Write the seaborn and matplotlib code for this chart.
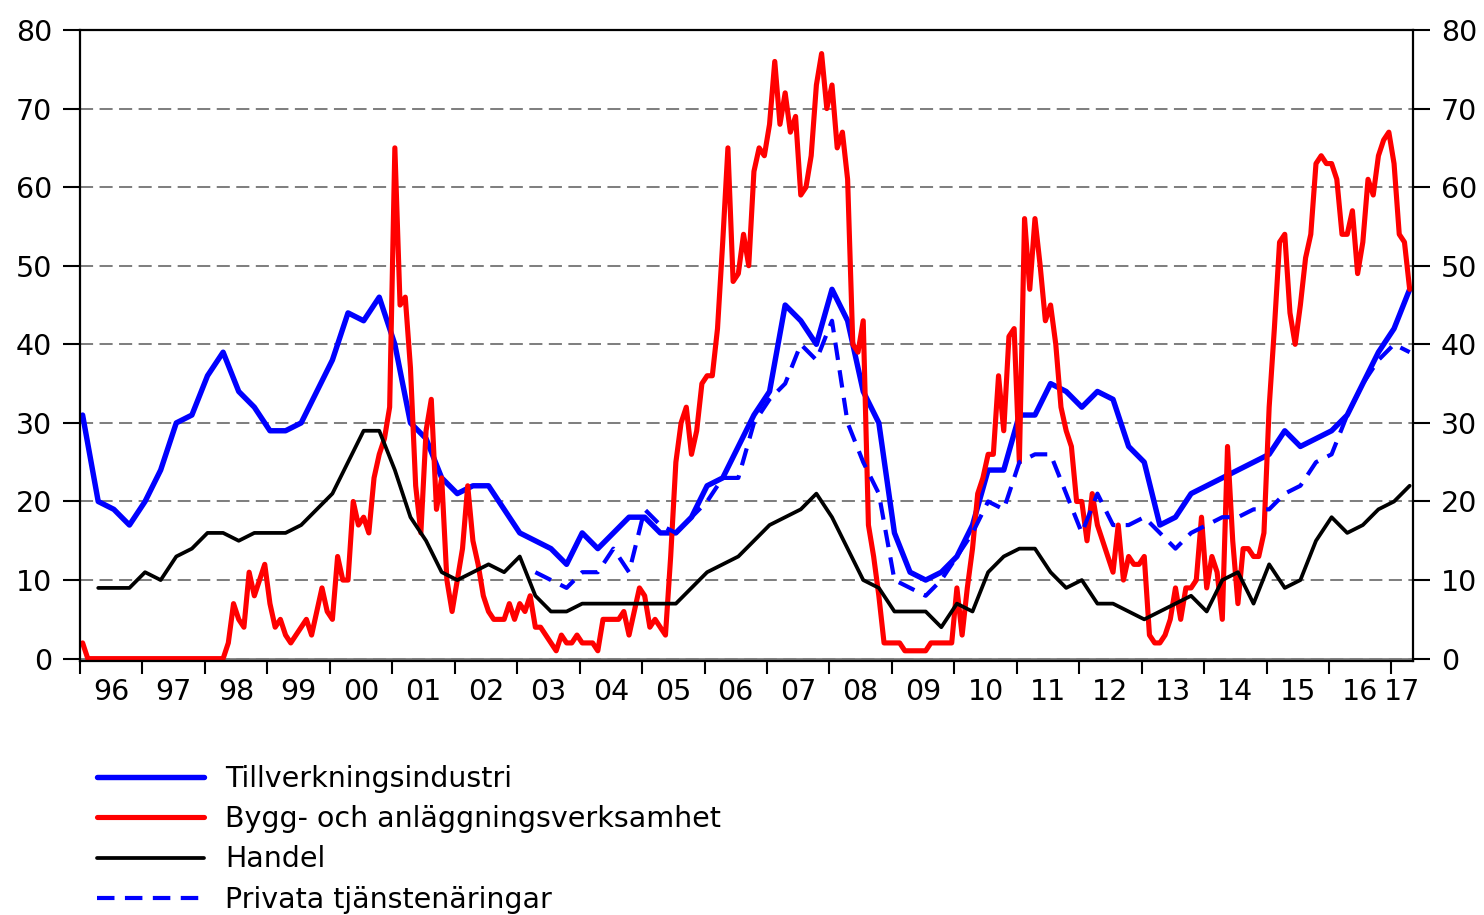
import numpy as np
import pandas as pd
import matplotlib
matplotlib.use("Agg")
import matplotlib.pyplot as plt
import seaborn as sns

# quarterly series, 1996Q1 - 2017Q2
tillverkning = [31, 20, 19, 17,  20, 24, 30, 31,  36, 39, 34, 32,  29, 29, 30, 34,
                38, 44, 43, 46,  40, 30, 28, 23,  21, 22, 22, 19,  16, 15, 14, 12,
                16, 14, 16, 18,  18, 16, 16, 18,  22, 23, 27, 31,  34, 45, 43, 40,
                47, 43, 34, 30,  16, 11, 10, 11,  13, 17, 24, 24,  31, 31, 35, 34,
                32, 34, 33, 27,  25, 17, 18, 21,  22, 23, 24, 25,  26, 29, 27, 28,
                29, 31, 35, 39,  42, 47]
handel = [np.nan, 9, 9, 9,  11, 10, 13, 14,  16, 16, 15, 16,  16, 16, 17, 19,
          21, 25, 29, 29,  24, 18, 15, 11,  10, 11, 12, 11,  13, 8, 6, 6,
          7, 7, 7, 7,  7, 7, 7, 9,  11, 12, 13, 15,  17, 18, 19, 21,
          18, 14, 10, 9,  6, 6, 6, 4,  7, 6, 11, 13,  14, 14, 11, 9,
          10, 7, 7, 6,  5, 6, 7, 8,  6, 10, 11, 7,  12, 9, 10, 15,
          18, 16, 17, 19,  20, 22]
privata = [np.nan] * 29 + [11, 10, 9,  11, 11, 14, 11,  19, 17, 16, 18,  20, 23, 23, 30,
                           33, 35, 40, 38,  43, 30, 25, 21,  10, 9, 8, 10,  13, 16, 20, 19,
                           25, 26, 26, 21,  16, 21, 17, 17,  18, 16, 14, 16,  17, 18, 18, 19,
                           19, 21, 22, 25,  26, 31, 35, 38,  40, 39]

# monthly series, 1996M1 - 2017M4
bygg = [2, 0, 0, 0, 0, 0, 0, 0, 0, 0, 0, 0,
        0, 0, 0, 0, 0, 0, 0, 0, 0, 0, 0, 0,
        0, 0, 0, 0, 2, 7, 5, 4, 11, 8, 10, 12,
        7, 4, 5, 3, 2, 3, 4, 5, 3, 6, 9, 6,
        5, 13, 10, 10, 20, 17, 18, 16, 23, 26, 28, 32,
        65, 45, 46, 37, 22, 16, 29, 33, 19, 23, 10, 6,
        10, 14, 22, 15, 12, 8, 6, 5, 5, 5, 7, 5,
        7, 6, 8, 4, 4, 3, 2, 1, 3, 2, 2, 3,
        2, 2, 2, 1, 5, 5, 5, 5, 6, 3, 6, 9,
        8, 4, 5, 4, 3, 13, 25, 30, 32, 26, 29, 35,
        36, 36, 42, 53, 65, 48, 49, 54, 50, 62, 65, 64,
        68, 76, 68, 72, 67, 69, 59, 60, 64, 73, 77, 70,
        73, 65, 67, 61, 40, 39, 43, 17, 13, 8, 2, 2,
        2, 2, 1, 1, 1, 1, 1, 2, 2, 2, 2, 2,
        9, 3, 9, 14, 21, 23, 26, 26, 36, 29, 41, 42,
        25, 56, 47, 56, 50, 43, 45, 40, 32, 29, 27, 20,
        20, 15, 21, 17, 15, 13, 11, 17, 10, 13, 12, 12,
        13, 3, 2, 2, 3, 5, 9, 5, 9, 9, 10, 18,
        9, 13, 11, 5, 27, 15, 7, 14, 14, 13, 13, 16,
        32, 42, 53, 54, 44, 40, 45, 51, 54, 63, 64, 63,
        63, 61, 54, 54, 57, 49, 53, 61, 59, 64, 66, 67,
        63, 54, 53, 47]

labels = ["Tillverkningsindustri", "Bygg- och anläggningsverksamhet",
          "Handel", "Privata tjänstenäringar"]
years = list(range(1996, 2018))

# time axis in decimal years (observation at centre of its first month)
t_q = 1996 + (np.arange(len(tillverkning)) * 3 + 0.5) / 12
t_m = 1996 + (np.arange(len(bygg)) + 0.5) / 12
quarterly = pd.DataFrame({"t": t_q, "till": tillverkning, "handel": handel, "privata": privata})
monthly = pd.DataFrame({"t": t_m, "bygg": bygg})

sns.set_style("ticks")
plt.rcParams["font.family"] = ["DejaVu Sans"]
plt.rcParams["text.color"] = "black"
plt.rcParams["xtick.color"] = "black"
plt.rcParams["ytick.color"] = "black"

fs = 20.5

fig = plt.figure(figsize=(14.84, 9.15), dpi=100)
ax = fig.add_axes([80 / 1484, 1 - 661 / 915, 1333 / 1484, 631 / 915])

#grid first so lines sit on top
ax.set_axisbelow(True)
ax.yaxis.grid(True, color="#808080", linestyle=(0, (6.5, 3.2)), linewidth=1.45)
ax.axhline(0, color="#808080", lw=2, zorder=1)

sns.lineplot(data=quarterly, x="t", y="till", ax=ax, color="#0000ff", lw=3.9, label=labels[0], legend=False)
sns.lineplot(data=monthly, x="t", y="bygg", ax=ax, color="#ff0000", lw=3.7, label=labels[1], legend=False)
sns.lineplot(data=quarterly, x="t", y="handel", ax=ax, color="black", lw=2.7, label=labels[2], legend=False)
sns.lineplot(data=quarterly, x="t", y="privata", ax=ax, color="#0000ff", lw=3.0,
             linestyle=(0, (4.2, 2.5)), label=labels[3], legend=False)

x_end = 1996 + 1333 / 62.45
ax.set_xlim(1996, x_end)
ax.set_ylim(-0.3, 80)
ax.set_xlabel("")
ax.set_ylabel("")

#y axis on both sides
ax.set_yticks(range(0, 81, 10))
ax.tick_params(axis="y", which="major", left=True, right=True, labelleft=True, labelright=True,
               length=12, width=1.5, labelsize=fs, pad=8, direction="out", colors="black")

#year boundaries as ticks, labels centred in each year
ax.set_xticks(years)
ax.set_xticklabels([])
centres = [y + 0.5 for y in years[:-1]] + [(years[-1] + x_end) / 2]
ax.set_xticks(centres, minor=True)
ax.set_xticklabels([f"{y % 100:02d}" for y in years], minor=True)
ax.tick_params(axis="x", which="major", length=9, width=1.5, direction="out", colors="black")
ax.tick_params(axis="x", which="minor", length=0, labelsize=fs, pad=12, colors="black")

for s in ax.spines.values():
    s.set_visible(True)
    s.set_linewidth(1.6)
    s.set_color("black")

handles, labs = ax.get_legend_handles_labels()
fig.legend(handles, labs, loc="upper left", bbox_to_anchor=(97 / 1484, 1 - 765 / 915),
           frameon=False, fontsize=fs, handlelength=3.75, handletextpad=0.75,
           labelspacing=0.43, borderpad=0, borderaxespad=0, labelcolor="black")

fig.savefig("out.png", dpi=100)
